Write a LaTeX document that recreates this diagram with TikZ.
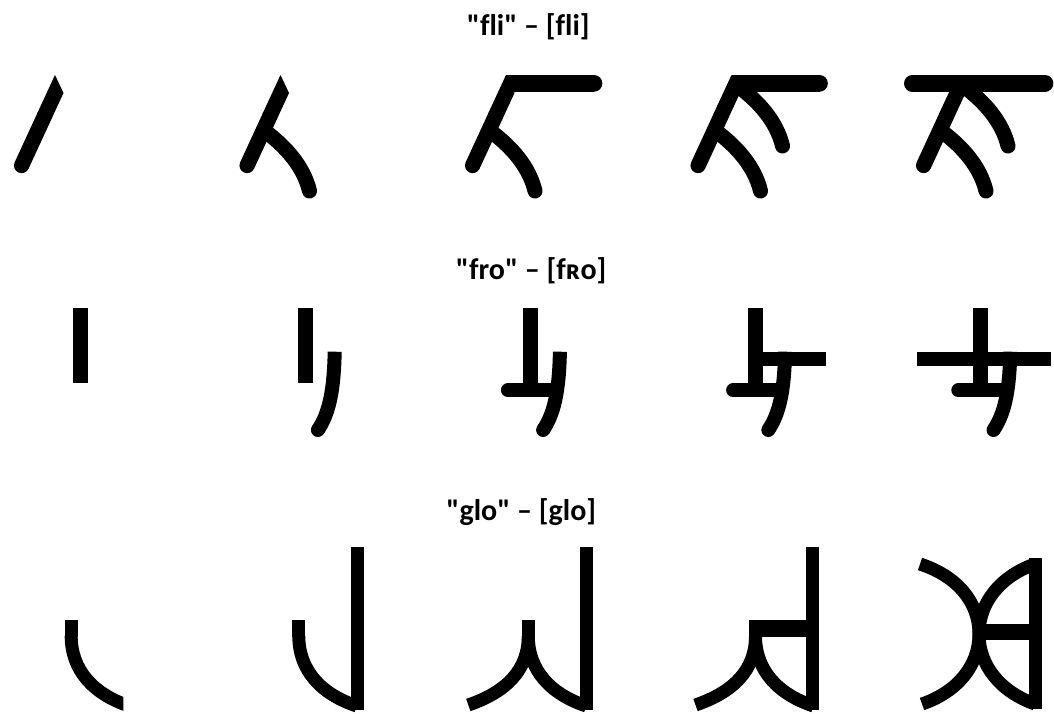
\documentclass[tikz,border=0pt]{standalone}
\usepackage{fontspec}
\newfontfamily\ttlfont{Carlito}[Ligatures=CommonOff]
\tikzset{
  ttl/.style={anchor=base, inner sep=0pt, font=\ttlfont\fontsize{30}{36}\selectfont\bfseries},
  brst/.style={line width=15, line cap=round},
  arcst/.style={line width=13, line cap=butt}
}
% row 1 parts
\newcommand\flA{\fill (55,75) -- (63.5,93) -- (50.9,120.2) -- (37.0,113.8) -- cycle;
  \draw[line width=15.3, line cap=round] (21.6,165.5) -- (44,117);}
\newcommand\flB{\draw[brst] (42,133) .. controls (60,147) and (78,166) .. (84,191);}
\newcommand\flD{\draw[brst] (64,88) .. controls (82,102) and (100,121) .. (106,146);}
\newcommand\flBar{\fill (55,75) rectangle (143,91.7); \fill (143,83.35) circle (8.35pt);}
% row 2 parts
\newcommand\frV{\fill (0,308.3) rectangle (15,383);}
\newcommand\frE{\draw[line width=14] (37,351.7) .. controls (36.2,392) and (31,414) .. (20.2,430); \fill (20.2,430) circle (7pt);}
\newcommand\frF{\draw[line width=14, line cap=round] (-15,390.3) -- (30,390.3);}
% row 3 parts
\newcommand\glS{\draw[arcst] (0,620) -- (0,637);}
\newcommand\glR{\draw[arcst] (0,636) .. controls (0,670) and (22,694) .. (58,706);}
\newcommand\glL{\draw[arcst] (0,636) .. controls (0,670) and (-22,692) .. (-60,705);}
\newcommand\glV{\draw[arcst] (58,547.3) -- (58,710);}
\begin{document}
\begin{tikzpicture}[x=1pt,y=-1pt]
\useasboundingbox (0,0) rectangle (1054,713);
\fill[white] (0,0) rectangle (1054,713);
% titles
\node[ttl] (t1) at (528.3,35) {"fli" – [fli]};
\node[ttl] (t2) at (531.2,279) {"fro" – [fʀo]};
\node[ttl] (t3) at (521.3,520) {"glo" – [glo]};
% row 1
\begin{scope}[xshift=0pt]\flA\end{scope}
\begin{scope}[xshift=225.5pt]\flA\flB\end{scope}
\begin{scope}[xshift=451pt]\flA\flB\flBar\end{scope}
\begin{scope}[xshift=676.5pt]\flA\flB\flBar\flD\end{scope}
\begin{scope}[xshift=902pt]\flA\flB\flD
  \draw[line width=16.7, line cap=round] (10.35,83.35) -- (143,83.35);\end{scope}
% row 2
\begin{scope}[xshift=72.5pt]\frV\end{scope}
\begin{scope}[xshift=297.7pt]\frV\frE\end{scope}
\begin{scope}[xshift=522.9pt]\frV\frE\frF\end{scope}
\begin{scope}[xshift=748.1pt]\frV\frE\frF\fill (15,351.7) rectangle (77.8,366);\end{scope}
\begin{scope}[xshift=973.3pt]\frV\frE\frF\fill (-56,351.7) rectangle (78,366);\end{scope}
% row 3
\begin{scope}[xshift=71.2pt]\glS
  \begin{scope}\clip (-20,600) rectangle (52.1,720);\glR\end{scope}\end{scope}
\begin{scope}[xshift=298.8pt]\glS\glR\draw[arcst] (59,547.3) -- (59,710);\end{scope}
\begin{scope}[xshift=528.3pt]\glS\glR\glL\glV\end{scope}
\begin{scope}[xshift=755.5pt]\glS\glR\glL\draw[arcst] (57.2,547.3) -- (57.2,710);
  \fill (0,620) rectangle (57.2,636.7);\end{scope}
\begin{scope}[xshift=979pt]
  \draw[arcst] (0,634) .. controls (0,666) and (22,692) .. (56,704);
  \draw[arcst] (0,634) .. controls (0,602) and (22,576) .. (56,564);
  \draw[arcst] (0,634) .. controls (0,666) and (-22,692) .. (-57,704);
  \draw[arcst] (0,634) .. controls (0,602) and (-22,576) .. (-59,564);
  \draw[arcst] (56.2,558) -- (56.2,709);
  \fill (0,623.5) rectangle (56,640);
\end{scope}
\end{tikzpicture}
\end{document}
